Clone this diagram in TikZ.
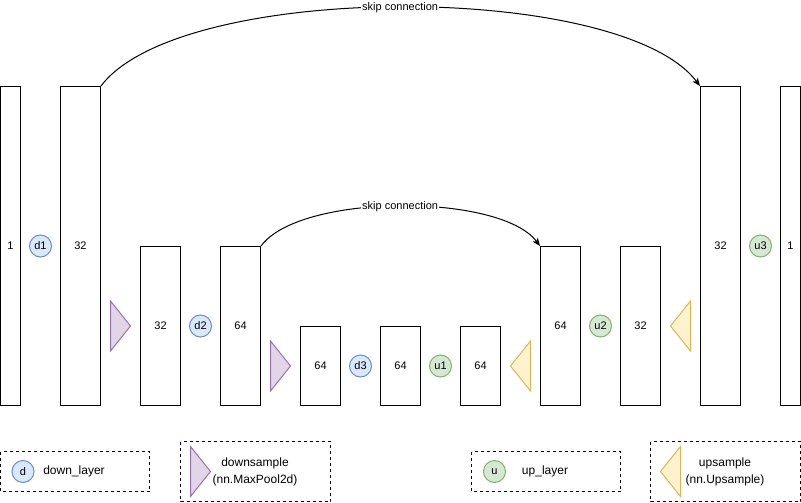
\documentclass[tikz,border=0pt]{standalone}
\usepackage{fontspec}
\setmainfont{Liberation Sans}
\usetikzlibrary{arrows.meta}
\definecolor{bluef}{HTML}{DAE8FC}\definecolor{blued}{HTML}{6C8EBF}
\definecolor{greenf}{HTML}{D5E8D4}\definecolor{greend}{HTML}{82B366}
\definecolor{purpf}{HTML}{E1D5E7}\definecolor{purpd}{HTML}{9673A6}
\definecolor{yellf}{HTML}{FFF2CC}\definecolor{yelld}{HTML}{D6B656}
\begin{document}
\begin{tikzpicture}[x=1pt,y=-1pt,font=\fontsize{11}{13}\selectfont,line width=1pt,
  blk/.style={draw=black,fill=white,inner sep=0pt,minimum width=40pt},
  tall/.style={blk,minimum height=319pt},
  mid/.style={blk,minimum height=159pt},
  low/.style={blk,minimum height=79pt},
  dcirc/.style={circle,draw=blued,fill=bluef,inner sep=0pt,minimum size=22pt},
  ucirc/.style={circle,draw=greend,fill=greenf,inner sep=0pt,minimum size=22pt},
  dtri/.style={draw=purpd,fill=purpf,line join=miter},
  utri/.style={draw=yelld,fill=yellf,line join=miter},
  skip/.style={-{Stealth[length=8pt,width=6.5pt,inset=2pt]},black},
  skiplabel/.style={fill=white,inner sep=1pt},
  legend/.style={draw=black,dash pattern=on 3pt off 3pt},
  plain/.style={inner sep=0pt,align=center,font=\fontsize{12}{16.5}\selectfont}]
\useasboundingbox (0,0) rectangle (801,503);

% blocks
\node[tall,minimum width=20pt] (in) at (10.5,246) {1};
\node[tall] (e1) at (80.5,246) {32};
\node[mid] (p1) at (160.5,326) {32};
\node[mid] (e2) at (240.5,326) {64};
\node[low] (p2) at (320.5,366) {64};
\node[low] (e3) at (400.5,366) {64};
\node[low] (bt) at (480.5,366) {64};
\node[mid] (q1) at (560.5,326) {64};
\node[mid] (f1) at (640.5,326) {32};
\node[tall] (q2) at (720.5,246) {32};
\node[tall,minimum width=20pt] (out) at (790.5,246) {1};

% layer circles
\node[dcirc] (d1) at (40.5,246) {d1};
\node[dcirc] (d2) at (200.5,326) {d2};
\node[dcirc] (d3) at (360.5,366) {d3};
\node[ucirc] (u1) at (440.5,366) {u1};
\node[ucirc] (u2) at (600.5,326) {u2};
\node[ucirc] (u3) at (760.5,246) {u3};

% down / up sample triangles
\draw[dtri] (110.5,301) -- (130.5,326) -- (110.5,351) -- cycle;
\draw[dtri] (270.5,341) -- (290.5,366) -- (270.5,391) -- cycle;
\draw[utri] (530.5,341) -- (510.5,366) -- (530.5,391) -- cycle;
\draw[utri] (690.5,301) -- (670.5,326) -- (690.5,351) -- cycle;

% skip connections
\draw[skip] (e1.north east) .. controls (180,-19) and (620,-19) .. (q2.north west)
  node[pos=0.5,skiplabel] (s1) {skip connection};
\draw[skip] (e2.north east) .. controls (300,193) and (500,193) .. (q1.north west)
  node[pos=0.5,skiplabel] (s2) {skip connection};

% legend
\draw[legend] (0.5,451.5) rectangle (149.5,491.5);
\node[dcirc] (ld) at (23,471.5) {d};
\node[plain] (ldt) at (74,471.5) {down\_layer};

\draw[legend] (180.5,441.5) rectangle (330.5,501.5);
\draw[dtri] (190.5,446.5) -- (210.5,471.5) -- (190.5,496.5) -- cycle;
\node[plain] (ldst) at (255,472) {downsample\\(nn.MaxPool2d)};

\draw[legend] (471.5,451.5) rectangle (620.5,491.5);
\node[ucirc] (lu) at (494.5,471.5) {u};
\node[plain] (lut) at (545,471.5) {up\_layer};

\draw[legend] (650.5,441.5) rectangle (800.5,501.5);
\draw[utri] (680.5,446.5) -- (660.5,471.5) -- (680.5,496.5) -- cycle;
\node[plain] (lust) at (725,472) {upsample\\(nn.Upsample)};
\end{tikzpicture}
\end{document}
